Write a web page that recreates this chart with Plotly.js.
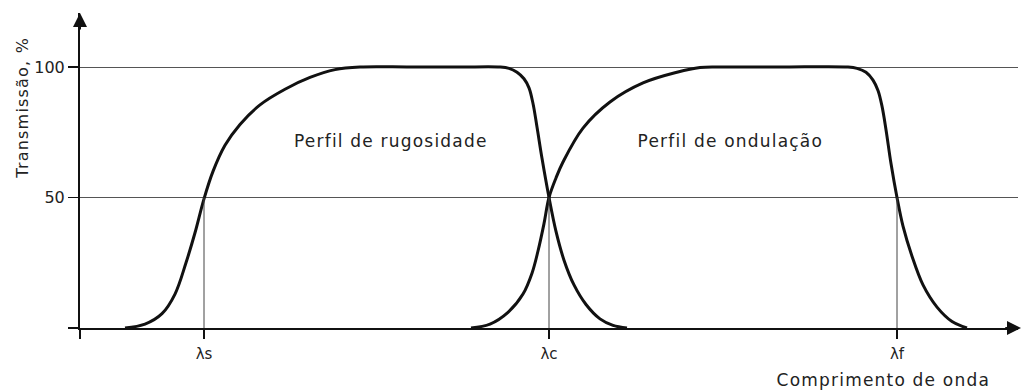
<!DOCTYPE html>
<html>
<head>
<meta charset="utf-8">
<script src="https://cdn.plot.ly/plotly-3.0.1.min.js"></script>
<style>
  html, body { margin: 0; padding: 0; background: #fff; }
  #plot { width: 1022px; height: 391px; }
  /* the original lettering is widely spaced */
  #plot .annotation-text { letter-spacing: 1.2px; }
</style>
</head>
<body>
<div id="plot"></div>
<script>
// wavelength axis in arbitrary units
var rugX = [45, 65, 82, 95, 106, 115, 124, 133, 145, 160, 180, 205, 230, 255, 280, 330, 380, 420,
            429, 437, 444, 449, 453, 457, 462, 469, 476, 484, 494, 506, 520, 533, 547];
var rugY = [0, 1.5, 5.5, 13, 25, 36.5, 49.5, 60, 70, 78, 85.5, 91.5, 96, 99, 100, 100, 100, 100,
            99.5, 98, 95.5, 92, 86, 77, 65, 50, 37, 26, 16.5, 9, 3.5, 1, 0];

var ondX = [391, 410, 428, 443, 452, 458, 464, 469, 476, 483, 503, 530, 563, 597, 620, 640, 700, 768,
            777, 786, 793, 798, 802, 806, 811, 817, 823, 832, 843, 857, 872, 887];
var ondY = [0, 1.5, 6, 13, 21, 29.5, 40, 50, 57.5, 63.6, 76.6, 86.6, 93.9, 98, 99.8, 100, 100, 100,
            99.5, 98, 95, 91, 85, 76, 63, 50, 39, 27.5, 16.5, 8, 2.5, 0];

var lambdaPos = [124, 469, 817];
var lambdaLabels = ["λs", "λc", "λf"];

var yTicks = [0, 50, 100];
var yTickText = ["", "50", "100"];

var ink = "#111";

var traceRug = {
  x: rugX, y: rugY,
  mode: "lines", type: "scatter",
  name: "Perfil de rugosidade",
  line: { color: ink, width: 3, shape: "spline", smoothing: 1 },
  hoverinfo: "skip"
};

var traceOnd = {
  x: ondX, y: ondY,
  mode: "lines", type: "scatter",
  name: "Perfil de ondulação",
  line: { color: ink, width: 3, shape: "spline", smoothing: 1 },
  hoverinfo: "skip"
};

// thin drop lines from the 50 % level down to each cut-off
var shapes = lambdaPos.map(function (p) {
  return {
    type: "line", xref: "x", yref: "y",
    x0: p, x1: p, y0: 0, y1: 50,
    line: { color: "#444", width: 1 }
  };
});

var layout = {
  width: 1022,
  height: 391,
  margin: { l: 80, r: 4, t: 13, b: 63 },
  paper_bgcolor: "#fff",
  plot_bgcolor: "#fff",
  showlegend: false,
  font: { family: "DejaVu Sans", color: "#222", size: 16 },
  xaxis: {
    range: [0, 938],
    showgrid: false,
    zeroline: false,
    showline: true, linecolor: ink, linewidth: 2,
    tickmode: "array",
    tickvals: [0].concat(lambdaPos),
    ticktext: [""].concat(lambdaLabels),
    ticks: "outside", ticklen: 9, tickwidth: 1.5, tickcolor: ink,
    ticklabelstandoff: 2,
    tickfont: { size: 15, color: "#222" },
    fixedrange: true
  },
  yaxis: {
    range: [0, 120.7],
    showgrid: true, gridcolor: "#555", gridwidth: 1,
    zeroline: false,
    showline: true, linecolor: ink, linewidth: 2,
    tickmode: "array",
    tickvals: yTicks,
    ticktext: yTickText,
    ticks: "outside", ticklen: 10, tickwidth: 1.5, tickcolor: ink,
    tickfont: { size: 16, color: "#222" },
    fixedrange: true
  },
  shapes: shapes,
  annotations: [
    // axis arrows
    { xref: "paper", yref: "paper", x: 0, y: 1, ax: 0, ay: 18, text: "",
      showarrow: true, arrowhead: 2, arrowsize: 1.4, arrowwidth: 2, arrowcolor: ink },
    { xref: "paper", yref: "paper", x: 1.004, y: 0, ax: -18, ay: 0, text: "",
      showarrow: true, arrowhead: 2, arrowsize: 1.4, arrowwidth: 2, arrowcolor: ink },
    // axis titles
    { xref: "paper", yref: "paper", x: -0.061, y: 0.70, text: "Transmissão, %",
      textangle: -90, showarrow: false, xanchor: "center", yanchor: "middle",
      font: { size: 16, color: "#222" } },
    { xref: "paper", yref: "paper", x: 0.857, y: -0.165, text: "Comprimento de onda",
      showarrow: false, xanchor: "center", yanchor: "middle",
      font: { size: 17, color: "#222" } },
    // curve labels
    { xref: "x", yref: "y", x: 311, y: 71.6, text: "Perfil de rugosidade",
      showarrow: false, xanchor: "center", yanchor: "middle",
      font: { size: 17, color: "#222" } },
    { xref: "x", yref: "y", x: 650, y: 71.6, text: "Perfil de ondulação",
      showarrow: false, xanchor: "center", yanchor: "middle",
      font: { size: 17, color: "#222" } }
  ]
};

Plotly.newPlot("plot", [traceRug, traceOnd], layout, { displayModeBar: false, staticPlot: true });
</script>
</body>
</html>
